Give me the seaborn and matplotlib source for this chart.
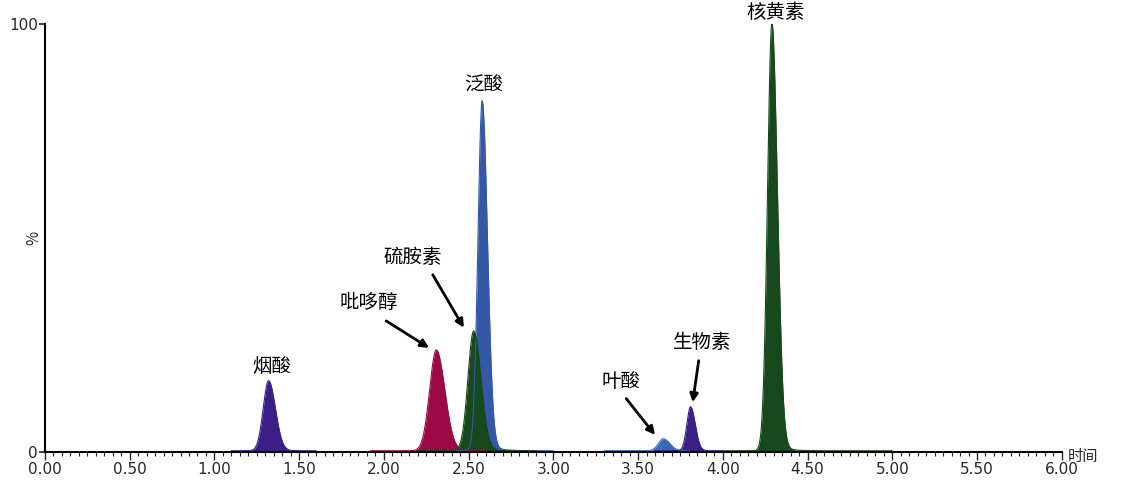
import numpy as np
import pandas as pd
import matplotlib
matplotlib.use("Agg")
import matplotlib.pyplot as plt
import seaborn as sns
from matplotlib.ticker import MultipleLocator

sns.set_theme(style="white")
plt.rcParams['font.family'] = ['Noto Sans CJK SC', 'DejaVu Sans']

names = ["烟酸", "吡哆醇", "硫胺素", "泛酸", "叶酸", "生物素", "核黄素"]
centers = [1.32, 2.31, 2.53, 2.58, 3.65, 3.81, 4.29]
heights = [16.4, 23.6, 28.0, 81.8, 2.8, 10.3, 100.0]
widths = [0.032, 0.040, 0.034, 0.025, 0.030, 0.022, 0.026]
tails = [0.05, 0.04, 0.06, 0.06, 0.04, 0.04, 0.05]
colors = ["#3b1f86", "#9b0a45", "#18481d", "#3457a8", "#3c68b8", "#3b1f86", "#18481d"]
order = [0, 1, 3, 2, 4, 5, 6]
starts = [1.1, 1.92, 2.2, 2.2, 3.3, 3.6, 4.0]
ends = [1.6, 2.6, 2.9, 3.0, 3.8, 4.0, 5.0]

label_xy = [(1.34, 20.0), (1.91, 35.0), (2.17, 45.5), (2.59, 85.8), (3.40, 16.5), (3.88, 25.5), (4.31, 102.8)]
arrow_from = [None, (2.00, 31.0), (2.28, 42.0), None, (3.42, 13.0), (3.86, 22.0), None]
arrow_to = [None, (2.28, 24.0), (2.48, 28.5), None, (3.61, 3.5), (3.82, 11.0), None]

fig = plt.figure(figsize=(11.36, 4.84), dpi=100)
ax = fig.add_axes([0.0396, 0.066, 0.895, 0.884])

for i in order:
    x = np.linspace(starts[i], ends[i], 800)
    d = x - centers[i]
    y = np.where(d < 0, np.exp(-0.5 * (d / widths[i]) ** 2),
                 np.exp(-0.5 * (d / (widths[i] * 1.25)) ** 2) * 0.97 + 0.03 * np.exp(-d / tails[i]))
    y = heights[i] * y / y.max() + 0.3
    df = pd.DataFrame({"t": x, "v": y})
    sns.lineplot(data=df, x="t", y="v", ax=ax, color=colors[i], lw=0.8)
    ax.fill_between(x, 0, y, color=colors[i], lw=0)

for i, n in enumerate(names):
    ax.text(label_xy[i][0], label_xy[i][1], n, ha="center", va="center", fontsize=14, color="black",
            clip_on=False)
    if arrow_from[i] is not None:
        ax.annotate("", xy=arrow_to[i], xytext=arrow_from[i],
                    arrowprops=dict(arrowstyle="-|>", color="black", lw=2, mutation_scale=12))

ax.set_xlim(0, 6.0)
ax.set_ylim(0, 100)
ax.set_xticks(np.arange(0, 6.01, 0.5))
ax.set_xticklabels([f"{v:.2f}" for v in np.arange(0, 6.01, 0.5)], fontsize=11, family="DejaVu Sans")
ax.xaxis.set_minor_locator(MultipleLocator(0.05))
ax.set_yticks([0, 100])
ax.set_yticklabels(["0", "100"], fontsize=11, family="DejaVu Sans")
ax.tick_params(axis="x", which="major", direction="out", length=6, width=1, bottom=True, pad=1)
ax.tick_params(axis="x", which="minor", direction="out", length=3, width=0.8, bottom=True)
ax.tick_params(axis="y", direction="out", length=4, left=True, pad=1)
ax.set_xlabel("")
ax.set_ylabel("")
ax.text(-0.011, 0.5, "%", transform=ax.transAxes, fontsize=11, rotation=90, ha="center", va="center")
ax.text(1.006, -0.01, "时间", transform=ax.transAxes, fontsize=11, ha="left", va="center")
for s in ["top", "right"]:
    ax.spines[s].set_visible(False)
for s in ["left", "bottom"]:
    ax.spines[s].set_color("black")
    ax.spines[s].set_linewidth(1.5)
fig.savefig("out.png", dpi=100)
